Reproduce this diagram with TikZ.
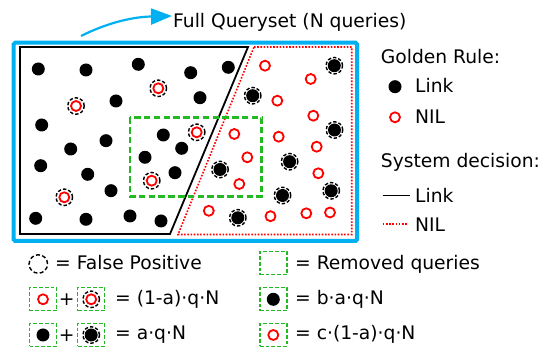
\documentclass[tikz,border=0pt]{standalone}
\usepackage{fontspec}
\setmainfont{DejaVu Sans}
\usetikzlibrary{arrows.meta}
\definecolor{qblue}{RGB}{0,176,240}
\definecolor{qgreen}{RGB}{34,185,34}
\definecolor{qred}{RGB}{255,0,0}
\tikzset{
  txt/.style={font=\fontsize{18.7}{22}\selectfont, anchor=base west, inner sep=0pt},
  linkdot/.style={circle, fill=black, minimum size=13pt, inner sep=0pt},
  nildot/.style={circle, draw=qred, line width=1.8pt, minimum size=10pt, inner sep=0pt},
  fpring/.style={circle, draw=black, line width=1.4pt, dash pattern=on 3.4pt off 2pt, minimum size=16.5pt, inner sep=0pt},
  fpbig/.style={circle, draw=black, line width=1.4pt, dash pattern=on 4pt off 2.4pt, minimum size=18.5pt, inner sep=0pt},
  removed/.style={draw=qgreen, line width=2.6pt, dash pattern=on 6.5pt off 3.3pt},
  removedsq/.style={draw=qgreen, line width=1.4pt, dash pattern=on 3.8pt off 2pt, minimum width=27pt, minimum height=23pt, inner sep=0pt},
  nilline/.style={draw=qred, line width=1.6pt, dash pattern=on 1.6pt off 1.6pt},
  linkline/.style={draw=black, line width=1.8pt},
}
\begin{document}
\begin{tikzpicture}[x=1pt,y=-1pt]
\useasboundingbox (0,0) rectangle (550,352);
% full queryset border
\draw[draw=qblue, line width=4pt, rounded corners=1.5pt] (13.7,42.7) rectangle (357,241);
% system decision regions
\draw[linkline] (20,47) -- (248,47) -- (170,234) -- (20,234) -- cycle;
\draw[nilline] (254,47) -- (351.7,47) -- (351.7,234.5) -- (178,234.5) -- cycle;
% removed queries
\draw[removed] (130,117.3) rectangle (261.7,196.7);
% title + arrow
\node[txt] (title) at (173,27.3) {Full Queryset (N queries)};
\coordinate (arrstart) at (81,36);
\coordinate (arrend) at (172,16);
\draw[draw=qblue, line width=2.2pt, -{Triangle[length=21pt,width=16pt]}] (arrstart) .. controls (105,24) and (130,17) .. (arrend);
% link dots
\foreach \x/\y [count=\i] in {38.3/69, 86/70, 138.3/64.3, 190.7/72.7, 228.3/67.3, 116/101, 200/97.7, 41.7/125, 163.3/135, 181.7/148.3, 70.7/149, 106/140.7, 145/157.3, 175/172.7, 40.7/165.7, 87.7/174.3, 111/190.7, 35.7/218.3, 86/219.3, 130/216, 161/221}
  \node[linkdot] (L\i) at (\x,\y) {};
% false positive NIL (in link area)
\foreach \x/\y [count=\i] in {158.3/88.3, 76/106, 196.7/132.3, 151.7/180.7, 64.3/197.3}
  {\node[nildot] (FN\i) at (\x,\y) {}; \node[fpring] (FNr\i) at (\x,\y) {};}
% NIL dots
\foreach \x/\y [count=\i] in {265/65.7, 310.7/79, 277.3/100.7, 313.3/115.7, 234.3/134, 278.7/136.7, 316.7/146.7, 247.3/157.3, 318.3/173.3, 239.3/184, 208.8/210.8, 270.5/216.2, 306.3/213.3, 330/212.5}
  \node[nildot] (N\i) at (\x,\y) {};
% link dots with ring (in NIL area)
\foreach \x/\y [count=\i] in {334.3/65.7, 252.7/95.7, 334.5/130, 220/169.5, 289.6/161.7, 282.5/195.5, 331.2/190.8, 237.8/217.8}
  {\node[linkdot] (FL\i) at (\x,\y) {}; \node[fpring] (FLr\i) at (\x,\y) {};}
% right legend
\node[txt] (gr) at (380.7,64) {Golden Rule:};
\node[linkdot] (lgl) at (395,86.7) {};
\node[txt] (lgltxt) at (415,93) {Link};
\node[nildot] (lgn) at (395,117.3) {};
\node[txt] (lgntxt) at (415,123.5) {NIL};
\node[txt] (sd) at (380.7,168) {System decision:};
\coordinate (sl1) at (382.7,195.7);
\coordinate (sl2) at (410,195.7);
\draw[draw=black, line width=1.5pt] (sl1) -- (sl2);
\node[txt] (sltxt) at (415,202.3) {Link};
\coordinate (sn1) at (382.7,224);
\coordinate (sn2) at (408,224);
\draw[nilline, line width=1.2pt] (sn1) -- (sn2);
\node[txt] (sntxt) at (415,231.7) {NIL};
% bottom legend row 1
\node[fpbig] (b1) at (38.3,264) {};
\node[txt] (b1t) at (55,270) {= False Positive};
\node[removedsq] (b2) at (273.3,263.3) {};
\node[txt] (b2t) at (295,270) {= Removed queries};
% row 2
\node[removedsq] (r2a) at (43,299.3) {};
\node[nildot] at (r2a) {};
\node[txt, anchor=center] (r2p) at (66.7,300) {+};
\node[removedsq] (r2b) at (91.2,299.3) {};
\node[nildot] at (r2b) {};
\node[fpring] at (r2b) {};
\node[txt] (r2t) at (115,304.3) {= (1-a)·q·N};
\node[removedsq] (r2c) at (273.3,299.3) {};
\node[linkdot] at (r2c) {};
\node[txt] (r2ct) at (295,304.3) {= b·a·q·N};
% row 3
\node[removedsq] (r3a) at (43,335) {};
\node[linkdot] at (r3a) {};
\node[txt, anchor=center] (r3p) at (66.7,336) {+};
\node[removedsq] (r3b) at (91.2,335) {};
\node[linkdot] at (r3b) {};
\node[fpring] at (r3b) {};
\node[txt] (r3t) at (115,339.3) {= a·q·N};
\node[removedsq] (r3c) at (273.3,335) {};
\node[nildot] at (r3c) {};
\node[txt] (r3ct) at (295,339.3) {= c·(1-a)·q·N};
\end{tikzpicture}
\end{document}
